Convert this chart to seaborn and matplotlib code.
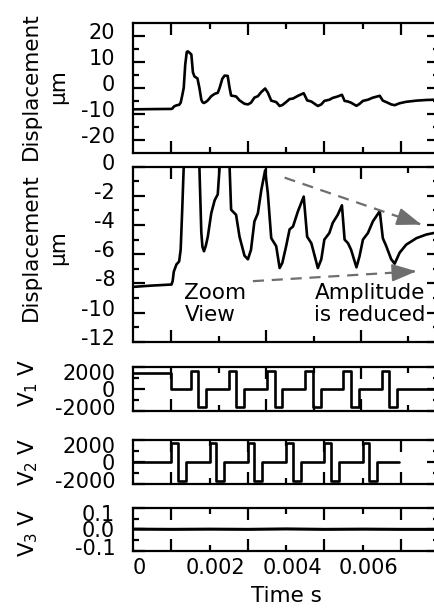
import numpy as np
import pandas as pd
import matplotlib
matplotlib.use("Agg")
import matplotlib.pyplot as plt
import matplotlib.transforms as mtransforms
from matplotlib.ticker import FixedLocator, NullFormatter, FixedFormatter
import seaborn as sns

# ---------------- data (time in ms) ----------------
disp_t_ms = [-1.0, -0.5, 0.0, 0.03, 0.06, 0.13, 0.2, 0.24, 0.28, 0.32, 0.36, 0.40, 0.43, 0.47,
             0.52, 0.56, 0.60, 0.68, 0.73, 0.78, 0.81, 0.85, 0.9, 0.95, 1.04, 1.13, 1.21, 1.26,
             1.33, 1.39, 1.47, 1.52, 1.56, 1.69, 1.78, 1.91, 2.0, 2.08, 2.17, 2.26, 2.35, 2.45,
             2.52, 2.61, 2.74, 2.83, 2.90, 3.0, 3.09, 3.18, 3.31, 3.46, 3.55, 3.66, 3.75, 3.83,
             3.92, 4.0, 4.13, 4.22, 4.35, 4.46, 4.53, 4.62, 4.70, 4.84, 4.92, 5.01, 5.14, 5.27,
             5.45, 5.53, 5.62, 5.75, 5.84, 5.97, 6.14, 6.41, 6.67, 6.86, 7.0]
disp_um = [-8.24, -8.15, -8.08, -7.85, -7.2, -6.7, -6.5, -5.7, -3.0, 0.0, 9.0, 13.8, 14.0, 13.5,
           12.8, 6.0, 4.4, 3.6, 0.0, -4.5, -5.5, -5.8, -5.4, -4.8, -3.2, -2.3, -1.9, 0.0,
           3.5, 4.7, 4.6, 0.0, -2.95, -3.3, -4.8, -6.1, -6.35, -5.7, -3.75, -3.2, -1.6, -0.25,
           -1.8, -4.9, -5.45, -6.95, -6.6, -5.45, -4.3, -4.1, -3.05, -2.05, -4.8, -5.25, -6.15, -6.95,
           -6.35, -5.0, -4.55, -3.85, -3.3, -2.65, -5.0, -5.25, -5.7, -6.9, -6.15, -5.0, -4.55, -3.75,
           -3.05, -4.9, -5.45, -6.35, -6.65, -5.9, -5.35, -4.9, -4.65, -4.55, -4.5]

v1_t_ms = [-1.0, 0.0, 0.5, 0.7, 0.9, 1.5, 1.7, 1.9, 2.5, 2.7, 2.9, 3.5, 3.7, 3.9,
           4.5, 4.7, 4.9, 5.5, 5.7, 5.9, 7.0]
v1_volt = [1400, 0, 1650, -1600, 0, 1650, -1600, 0, 1650, -1600, 0, 1650, -1600, 0,
           1650, -1600, 0, 1650, -1600, 0, 0]

v2_t_ms = [-1.0, 0.0, 0.17, 0.38, 1.0, 1.17, 1.38, 2.0, 2.17, 2.38, 3.0, 3.17, 3.38,
           4.0, 4.17, 4.38, 5.0, 5.17, 5.38, 5.95]
v2_volt = [0, 1750, -1750, 0, 1750, -1750, 0, 1750, -1750, 0, 1750, -1750, 0,
           1750, -1750, 0, 1750, -1750, 0, 0]

v3_t_ms = [-1.0, 0.0, 1.0, 2.0, 3.0, 4.0, 5.0, 6.0, 7.0]
v3_volt = [0.001, 0.0, 0.001, 0.0, 0.002, 0.0, 0.001, 0.0, 0.0]

time_ticks = [0.0, 0.002, 0.004, 0.006]
time_minor = [0.001, 0.003, 0.005]
time_tick_labels = ["0", "0.002", "0.004", "0.006"]
zoom_time_ticks = [0.0, 0.00248, 0.00496]
zoom_time_minor = [0.00124, 0.00372, 0.0062]

arrow_upper_ms = [(2.96, -0.75), (6.54, -3.97)]
arrow_lower_ms = [(2.13, -7.85), (6.41, -7.17)]
note_zoom = (0.34, -7.95, "Zoom\nView")
note_amp = (3.74, -7.95, "Amplitude\nis reduced")

# ---------------- style ----------------
sns.set_style("ticks")
plt.rcParams.update({
    "font.family": ["DejaVu Sans"],
    "axes.unicode_minus": False,
    "axes.linewidth": 1.6,
    "axes.edgecolor": "black",
    "text.color": "black",
    "axes.labelcolor": "black",
    "xtick.color": "black", "ytick.color": "black",
    "xtick.direction": "in", "ytick.direction": "in",
    "xtick.top": True, "ytick.right": True,
    "xtick.major.size": 8.5, "xtick.minor.size": 4.5,
    "ytick.major.size": 8.5, "ytick.minor.size": 4.5,
    "xtick.major.width": 1.6, "xtick.minor.width": 1.6,
    "ytick.major.width": 1.6, "ytick.minor.width": 1.6,
    "xtick.labelsize": 15, "ytick.labelsize": 15,
    "ytick.major.pad": 13, "xtick.major.pad": 5,
})

fig = plt.figure(figsize=(4.34, 6.14), dpi=100)
fig.patch.set_facecolor("white")
L, W = 0.3071, 0.7044
ax1 = fig.add_axes([L, 0.7508, W, 0.2122])
ax2 = fig.add_axes([L, 0.4435, W, 0.2850])
ax3 = fig.add_axes([L, 0.3306, W, 0.0722])
ax4 = fig.add_axes([L, 0.2117, W, 0.0717])
ax5 = fig.add_axes([L, 0.1026, W, 0.0705])

df_disp = pd.DataFrame({"t": np.array(disp_t_ms) * 1e-3, "v": disp_um})
df_v1 = pd.DataFrame({"t": np.array(v1_t_ms) * 1e-3, "v": v1_volt})
df_v2 = pd.DataFrame({"t": np.array(v2_t_ms) * 1e-3, "v": v2_volt})
df_v3 = pd.DataFrame({"t": np.array(v3_t_ms) * 1e-3, "v": v3_volt})

lw = 1.9
sns.lineplot(data=df_disp, x="t", y="v", ax=ax1, color="black", lw=lw, estimator=None, sort=False)
sns.lineplot(data=df_disp, x="t", y="v", ax=ax2, color="black", lw=lw, estimator=None, sort=False)
sns.lineplot(data=df_v1, x="t", y="v", ax=ax3, color="black", lw=lw, estimator=None, sort=False,
             drawstyle="steps-post")
sns.lineplot(data=df_v2, x="t", y="v", ax=ax4, color="black", lw=lw, estimator=None, sort=False,
             drawstyle="steps-post")
sns.lineplot(data=df_v3, x="t", y="v", ax=ax5, color="black", lw=2.2, estimator=None, sort=False)

for ax in (ax1, ax2, ax3, ax4, ax5):
    ax.set_xlim(-0.001, 0.007)
    ax.set_xlabel("")
    ax.tick_params(which="both", top=True, right=True, direction="in")
    for s in ax.spines.values():
        s.set_linewidth(1.6)

# x ticks
for ax in (ax1, ax4, ax5):
    ax.xaxis.set_major_locator(FixedLocator(time_ticks))
    ax.xaxis.set_minor_locator(FixedLocator(time_minor))
for ax in (ax2, ax3):
    ax.xaxis.set_major_locator(FixedLocator(zoom_time_ticks))
    ax.xaxis.set_minor_locator(FixedLocator(zoom_time_minor))
for ax in (ax1, ax2, ax3, ax4):
    ax.tick_params(axis="x", labelbottom=False)
ax5.xaxis.set_major_formatter(FixedFormatter(time_tick_labels))
ax5.xaxis.set_minor_formatter(NullFormatter())

# y axes
ax1.set_ylim(-25, 25)
ax1.yaxis.set_major_locator(FixedLocator([-20, -10, 0, 10, 20]))
ax1.yaxis.set_minor_locator(FixedLocator([-15, -5, 5, 15]))
ax2.set_ylim(-12, 0)
ax2.yaxis.set_major_locator(FixedLocator([-12, -10, -8, -6, -4, -2, 0]))
ax2.yaxis.set_minor_locator(FixedLocator([-11, -9, -7, -5, -3, -1]))
for ax in (ax3, ax4):
    ax.set_ylim(-2000, 2000)
    ax.yaxis.set_major_locator(FixedLocator([-2000, 0, 2000]))
    ax.yaxis.set_minor_locator(FixedLocator([-1000, 1000]))
    ax.yaxis.set_major_formatter(FixedFormatter(["-2000", "0", "2000"]))
ax5.set_ylim(-0.1, 0.1)
ax5.yaxis.set_major_locator(FixedLocator([-0.1, 0.0, 0.1]))
ax5.yaxis.set_minor_locator(FixedLocator([-0.05, 0.05]))
ax5.yaxis.set_major_formatter(FixedFormatter(["-0.1", "0.0", "0.1"]))
for ax in (ax1, ax2, ax3, ax4, ax5):
    ax.yaxis.set_minor_formatter(NullFormatter())

# y labels
lab_fs = 15.5
ylabels = [(ax1, "Displacement\nµm", -0.290, 0.51),
           (ax2, "Displacement\nµm", -0.290, 0.54),
           (ax3, "V$_1$ V", -0.344, 0.643),
           (ax4, "V$_2$ V", -0.344, 0.51),
           (ax5, "V$_3$ V", -0.344, 0.42)]
for ax, txt, xx, yy in ylabels:
    ax.set_ylabel(txt, fontsize=lab_fs, linespacing=1.45)
    ax.yaxis.label.set_ha("center")
    ax.yaxis.label.set_va("center")
    ax.yaxis.set_label_coords(xx, yy)

ax5.set_xlabel("Time s", fontsize=lab_fs, labelpad=6)

# arrows and notes in zoom view
gray = "#6e6e6e"
for (x0, y0), (x1, y1) in (arrow_upper_ms, arrow_lower_ms):
    xs = np.array([x0, x1]) * 1e-3
    ax2.plot(xs, [y0, y1], color=gray, lw=1.6, dashes=(5, 3.5))
    xb = (x1 - 0.05 * (x1 - x0)) * 1e-3
    yb = y1 - 0.05 * (y1 - y0)
    ax2.annotate("", xy=(x1 * 1e-3, y1), xytext=(xb, yb),
                 arrowprops=dict(arrowstyle="-|>,head_length=0.75,head_width=0.27",
                                 color=gray, lw=1.5, mutation_scale=20,
                                 shrinkA=0, shrinkB=0))
for tx, ty, s in (note_zoom, note_amp):
    ax2.text(tx * 1e-3, ty, s, fontsize=15.5, ha="left", va="top", linespacing=1.15,
             multialignment="left", zorder=5)

fig.canvas.draw()

def shift(label, dx_px, dy_px):
    off = mtransforms.ScaledTranslation(dx_px / 100.0, dy_px / 100.0, fig.dpi_scale_trans)
    label.set_transform(label.get_transform() + off)

for lab in ax5.get_xticklabels():
    shift(lab, -32, 0)
for ax in (ax1, ax2):
    for lab in ax.get_yticklabels():
        shift(lab, 0, 5)
for ax in (ax3, ax4, ax5):
    labs = ax.get_yticklabels()
    shift(labs[0], 0, 4)
    shift(labs[-1], 0, -5)

fig.savefig("out.png", dpi=100, facecolor="white")
